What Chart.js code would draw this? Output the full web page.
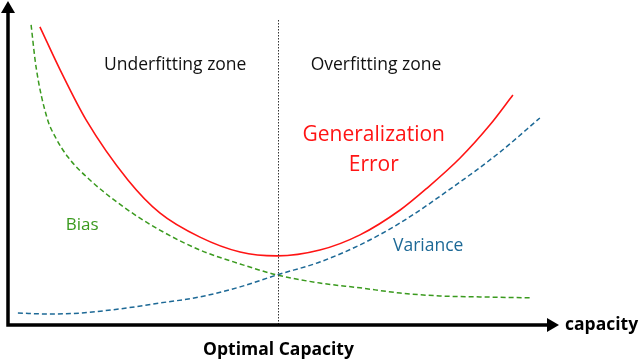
<!DOCTYPE html>
<html>
<head>
<meta charset="utf-8">
<script src="https://cdn.jsdelivr.net/npm/chart.js@4"></script>
<style>
  html, body { margin: 0; padding: 0; background: #fff; }
  #wrap { width: 640px; height: 360px; }
</style>
</head>
<body>
<div id="wrap"><canvas id="chart"></canvas></div>
<script>
// capacity (x) / error (y), both on a 0..10 scale
const errorX    = [0.58, 0.95, 1.42, 2.18, 2.76, 3.49, 4.22, 4.89, 5.67, 6.40, 7.13, 7.62, 8.22, 8.76, 9.18]
const errorY    = [9.23, 7.89, 6.35, 4.49, 3.47, 2.72, 2.26, 2.14, 2.32, 2.79, 3.56, 4.24, 5.17, 6.19, 7.12]
const biasX     = [0.42, 0.51, 0.71, 0.87, 1.09, 1.49, 2.13, 2.76, 3.49, 4.22, 4.89, 5.67, 6.40, 7.13, 7.85, 8.58, 9.53]
const biasY     = [9.29, 7.99, 6.41, 5.79, 5.20, 4.49, 3.62, 2.94, 2.32, 1.89, 1.55, 1.30, 1.15, 0.99, 0.90, 0.87, 0.84]
const varianceX = [0.18, 0.76, 1.31, 2.04, 2.76, 3.49, 4.22, 4.89, 5.67, 6.40, 7.13, 8.09, 8.95, 9.67]
const varianceY = [0.37, 0.34, 0.37, 0.50, 0.68, 0.87, 1.18, 1.55, 1.95, 2.48, 3.16, 4.27, 5.36, 6.41]

const optimalCapacity = 4.9

const RED = "#ff1414"
const GREEN = "#3a9a1e"
const BLUE = "#1d6996"
const FONT = "'Open Sans', sans-serif"

function pts(xs, ys) {
    return xs.map((x, i) => ({ x: x, y: ys[i] }))
}

// axes with arrows, the dotted optimum line and the labels
const decorations = {
    id: "decorations",
    afterDraw(chart) {
        const ctx = chart.ctx
        const a = chart.chartArea
        const xs = chart.scales.x
        const ys = chart.scales.y
        ctx.save()

        // dotted vertical line at the optimum
        const ox = Math.round(xs.getPixelForValue(optimalCapacity)) + 0.5
        ctx.strokeStyle = "#333"
        ctx.lineWidth = 1
        ctx.setLineDash([1.5, 1.5])
        ctx.beginPath()
        ctx.moveTo(ox, 20)
        ctx.lineTo(ox, a.bottom)
        ctx.stroke()
        ctx.setLineDash([])

        // axes
        ctx.strokeStyle = "#000"
        ctx.fillStyle = "#000"
        ctx.lineWidth = 3.5
        ctx.beginPath()
        ctx.moveTo(a.left, a.bottom)
        ctx.lineTo(a.left, 10)
        ctx.moveTo(a.left - 1.75, a.bottom)
        ctx.lineTo(a.right - 8, a.bottom)
        ctx.stroke()
        // arrow heads
        ctx.beginPath()
        ctx.moveTo(a.left, 1)
        ctx.lineTo(a.left - 7, 13)
        ctx.lineTo(a.left + 7, 13)
        ctx.closePath()
        ctx.fill()
        ctx.beginPath()
        ctx.moveTo(a.right + 1, a.bottom)
        ctx.lineTo(a.right - 11, a.bottom - 7)
        ctx.lineTo(a.right - 11, a.bottom + 7)
        ctx.closePath()
        ctx.fill()

        ctx.textAlign = "center"
        ctx.textBaseline = "middle"

        ctx.font = "bold 17.5px " + FONT
        ctx.fillText("Optimal Capacity", ox, 350)
        ctx.textAlign = "left"
        ctx.fillText("capacity", a.right + 7, a.bottom)

        ctx.textAlign = "center"
        ctx.font = "17.5px " + FONT
        ctx.fillStyle = "#111"
        ctx.fillText("Underfitting zone", xs.getPixelForValue(3.04), ys.getPixelForValue(8.05))
        ctx.fillText("Overfitting zone", xs.getPixelForValue(6.69), ys.getPixelForValue(8.05))

        ctx.fillStyle = BLUE
        ctx.fillText("Variance", xs.getPixelForValue(7.64), ys.getPixelForValue(2.45))
        ctx.fillStyle = GREEN
        ctx.font = "17px " + FONT
        ctx.fillText("Bias", xs.getPixelForValue(1.35), ys.getPixelForValue(3.1))

        ctx.fillStyle = RED
        ctx.font = "21px " + FONT
        ctx.fillText("Generalization", xs.getPixelForValue(6.65), ys.getPixelForValue(5.88))
        ctx.fillText("Error", xs.getPixelForValue(6.65), ys.getPixelForValue(4.95))

        ctx.restore()
    }
}

new Chart(document.getElementById("chart"), {
    type: "line",
    data: {
        datasets: [
            {
                label: "Generalization Error",
                data: pts(errorX, errorY),
                borderColor: RED,
                borderWidth: 1.6,
                pointRadius: 0,
                cubicInterpolationMode: "monotone"
            },
            {
                label: "Bias",
                data: pts(biasX, biasY),
                borderColor: GREEN,
                borderWidth: 1.5,
                borderDash: [5, 3],
                pointRadius: 0,
                cubicInterpolationMode: "monotone"
            },
            {
                label: "Variance",
                data: pts(varianceX, varianceY),
                borderColor: BLUE,
                borderWidth: 1.5,
                borderDash: [5, 3],
                pointRadius: 0,
                cubicInterpolationMode: "monotone"
            }
        ]
    },
    options: {
        responsive: true,
        maintainAspectRatio: false,
        animation: false,
        layout: { padding: { left: 8, right: 82, top: 2, bottom: 35 } },
        scales: {
            x: { type: "linear", min: 0, max: 10, display: false },
            y: { type: "linear", min: 0, max: 10, display: false }
        },
        plugins: {
            legend: { display: false },
            tooltip: { enabled: false }
        }
    },
    plugins: [decorations]
})
</script>
</body>
</html>
